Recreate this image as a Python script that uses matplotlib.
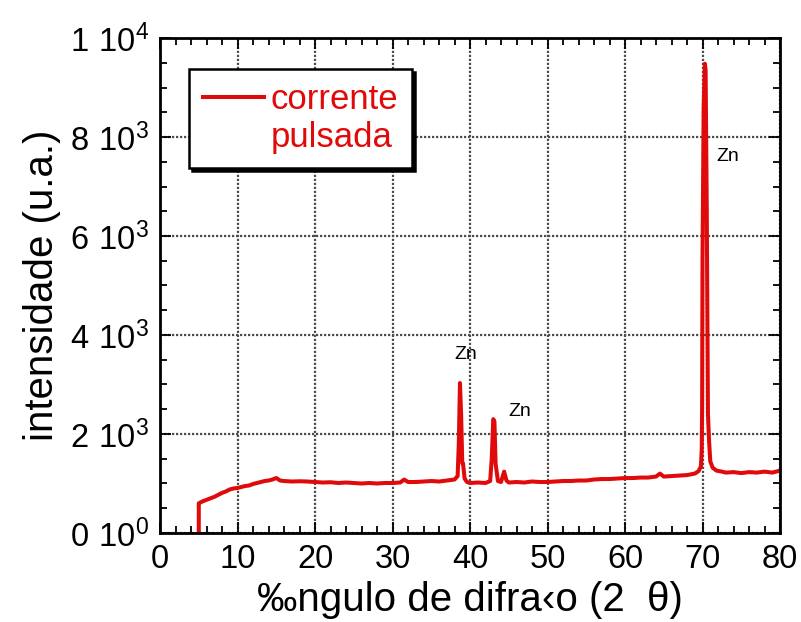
import matplotlib
matplotlib.use("Agg")
import matplotlib.pyplot as plt
from matplotlib.lines import Line2D
from matplotlib.ticker import MultipleLocator

plt.rcParams["font.family"] = ["Liberation Sans", "DejaVu Sans"]
plt.rcParams["mathtext.fontset"] = "custom"
plt.rcParams["mathtext.rm"] = "Liberation Sans"

# diffractogram (2 theta, intensity)
two_theta = [
    5.0, 5.0, 5.5, 6.0, 6.5, 7.0, 7.5, 8.0, 8.5, 9.0, 9.5, 10.0, 10.5, 11.0,
    11.5, 12.0, 12.5, 13.0, 13.5, 14.0, 14.5, 15.0, 15.5, 16.0, 17.0, 18.0,
    19.0, 20.0, 21.0, 22.0, 23.0, 24.0, 25.0, 26.0, 27.0, 28.0, 29.0, 30.0,
    31.0, 31.5, 32.0, 33.0, 34.0, 35.0, 36.0, 37.0, 37.5, 38.0, 38.4, 38.55,
    38.7, 38.85, 39.0, 39.1, 39.3, 39.6, 40.0, 41.0, 42.0, 42.6, 42.8, 43.0,
    43.15, 43.3, 43.6, 44.0, 44.4, 44.7, 45.0, 46.0, 47.0, 48.0, 49.0, 50.0,
    51.0, 52.0, 53.0, 54.0, 55.0, 56.0, 57.0, 58.0, 59.0, 60.0, 61.0, 62.0,
    63.0, 64.0, 64.5, 65.0, 66.0, 67.0, 68.0, 69.0, 69.5, 69.8, 69.9, 69.95,
    70.0, 70.15, 70.3, 70.4, 70.55, 70.7, 70.85, 71.0, 71.3, 71.8, 72.5,
    73.0, 74.0, 75.0, 76.0, 77.0, 78.0, 79.0, 80.0,
]
intensity = [
    0, 600, 640, 670, 700, 730, 770, 810, 840, 880, 900, 910, 930, 950,
    960, 990, 1010, 1030, 1050, 1060, 1080, 1110, 1060, 1050, 1040, 1045,
    1040, 1030, 1020, 1025, 1010, 1020, 1010, 1000, 1010, 1000, 1010, 1010,
    1020, 1080, 1030, 1030, 1040, 1050, 1040, 1060, 1070, 1080, 1150, 1800,
    3030, 2400, 1410, 1400, 1100, 1030, 1010, 1020, 1010, 1050, 1500, 2300,
    2250, 1400, 1050, 1030, 1240, 1060, 1020, 1030, 1020, 1040, 1030, 1030,
    1040, 1050, 1050, 1060, 1060, 1080, 1090, 1090, 1100, 1110, 1110, 1120,
    1120, 1140, 1200, 1140, 1150, 1160, 1170, 1200, 1250, 1350, 1700, 2600,
    5600, 8600, 9480, 9350, 6500, 2400, 1850, 1450, 1320, 1260, 1240,
    1220, 1230, 1210, 1230, 1220, 1240, 1220, 1260,
]

zn_x = [38.0, 45.0, 71.8]
zn_y = [3600, 2450, 7600]

ytick_vals = [0, 2000, 4000, 6000, 8000, 10000]
ytick_labels = [r"$\mathregular{0\ 10^{0}}$", r"$\mathregular{2\ 10^{3}}$",
                r"$\mathregular{4\ 10^{3}}$", r"$\mathregular{6\ 10^{3}}$",
                r"$\mathregular{8\ 10^{3}}$", r"$\mathregular{1\ 10^{4}}$"]

red = "#e00a0a"

fig = plt.figure(figsize=(8.01, 6.22), dpi=100)
ax = fig.add_axes([0.1998, 0.1431, 0.774, 0.7958])

ax.plot(two_theta, intensity, color=red, linewidth=2.9, solid_joinstyle="round")

for xx, yy in zip(zn_x, zn_y):
    ax.text(xx, yy, "Zn", fontsize=14, ha="left", va="center")

ax.set_xlim(0, 80)
ax.set_ylim(0, 10000)
ax.xaxis.set_major_locator(MultipleLocator(10))
ax.xaxis.set_minor_locator(MultipleLocator(2))
ax.yaxis.set_minor_locator(MultipleLocator(500))
ax.set_yticks(ytick_vals)
ax.set_yticklabels(ytick_labels)

ax.tick_params(which="both", direction="in", top=True, right=True, width=1.3)
ax.tick_params(which="major", length=8, labelsize=23.5, pad=8)
ax.tick_params(which="minor", length=5)
for s in ax.spines.values():
    s.set_linewidth(2)

ax.grid(True, which="major", color="0.3", linestyle=(0, (1, 0.8)), linewidth=1.6)

ax.set_xlabel("\u2030ngulo de difra\u2039o (2  \u03b8)", fontsize=29, labelpad=4)
ax.set_ylabel("intensidade (u.a.)", fontsize=29, labelpad=6)

handles = [Line2D([], [], color=red, linewidth=2.9),
           Line2D([], [], color="none")]
leg = ax.legend(handles, ["corrente", "pulsada"], loc="upper left",
                bbox_to_anchor=(0.047, 0.937), borderaxespad=0, fontsize=25,
                frameon=True, fancybox=False, shadow={"color": "black", "alpha": 1},
                handlelength=1.75, handletextpad=0.2, labelspacing=0.15,
                borderpad=0.4, framealpha=1)
leg.get_frame().set_edgecolor("black")
leg.get_frame().set_linewidth(1.8)
for t in leg.get_texts():
    t.set_color(red)

fig.savefig("out.png", dpi=100)
